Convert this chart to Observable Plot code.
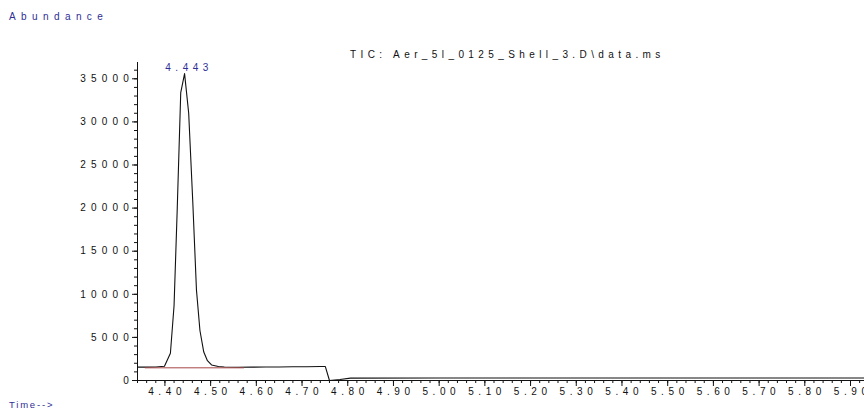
<!DOCTYPE html>
<html><head><meta charset="utf-8">
<script src="https://cdn.jsdelivr.net/npm/d3@7"></script>
<script src="https://cdn.jsdelivr.net/npm/@observablehq/plot@0.6"></script>
<style>
html,body{margin:0;padding:0;background:#fff;}
#wrap{position:relative;width:864px;height:414px;font-family:"Liberation Sans",Arial,sans-serif;overflow:hidden;}
#wrap svg{position:absolute;left:0;top:0;}
.lab{position:absolute;white-space:nowrap;line-height:1;}
</style></head><body>
<div id="wrap">
<div class="lab" style="left:9px;top:11.8px;font-size:10px;letter-spacing:5.4px;color:#2e2e96">Abundance</div>
<div class="lab" style="left:350px;top:49.8px;font-size:10px;letter-spacing:4.4px;color:#111">TIC: Aer_5l_0125_Shell_3.D\data.ms</div>
<div class="lab" style="left:9px;top:399.5px;font-size:9.5px;letter-spacing:1.8px;color:#2e2e96">Time--&gt;</div>
</div>
<script>
// Retention time (min) and abundance of the TIC trace
const time = [4.340, 4.360, 4.380, 4.399, 4.412, 4.420, 4.427, 4.4346, 4.443, 4.452, 4.461, 4.469, 4.4766, 4.485, 4.493, 4.502, 4.517, 4.530, 4.560, 4.590, 4.620, 4.650, 4.680, 4.710, 4.740, 4.751, 4.760, 4.783, 4.806, 5.000, 5.300, 5.600, 5.930];
const abundance = [1550, 1550, 1560, 1650, 3170, 8700, 20000, 33400, 35600, 31000, 20650, 10500, 5800, 3300, 2300, 1800, 1620, 1570, 1540, 1550, 1570, 1560, 1590, 1600, 1620, 1620, 0, 120, 280, 285, 290, 285, 290];
// Integration baseline (red)
const baseTime = [4.357, 4.572];
const baseAbundance = [1470, 1470];
// Peak annotation
const peakTime = [4.443];
const peakAbundance = [35600];
const peakLabel = ["4.443"];
// Axes
const xDomain = [4.340, 5.9306];
const yDomain = [0, 36890];
const xMajor = d3.range(44, 60).map(i => i / 10);
const xMinor = d3.range(217, 297).map(i => i / 50);
const yMajor = d3.range(0, 35001, 5000);
const yMinor = d3.range(0, 36001, 1000);

const trace = time.map((t, i) => ({t, a: abundance[i]}));
const base = baseTime.map((t, i) => ({t, a: baseAbundance[i]}));
const peaks = peakTime.map((t, i) => ({t, a: peakAbundance[i], label: peakLabel[i]}));

const chart = Plot.plot({
  width: 864, height: 414,
  marginLeft: 137, marginRight: 0, marginTop: 62, marginBottom: 34,
  x: {domain: xDomain, label: null},
  y: {domain: yDomain, label: null},
  style: {fontFamily: '"Liberation Sans", Arial, sans-serif', fontSize: "10px", color: "#111", background: "transparent", overflow: "visible"},
  marks: [
    Plot.axisY({ticks: yMinor, tickSize: 3, tickFormat: () => "", label: null, stroke: "#111"}),
    Plot.axisY({ticks: yMajor, tickSize: 5, tickFormat: () => "", label: null, stroke: "#111"}),
    Plot.axisX({ticks: xMinor, tickSize: 3, tickFormat: () => "", label: null, stroke: "#111"}),
    Plot.axisX({ticks: xMajor, tickSize: 6, tickFormat: () => "", label: null, stroke: "#111"}),
    Plot.ruleY([0], {stroke: "#111"}),
    Plot.ruleX([xDomain[0]], {stroke: "#111"}),
    Plot.text(yMajor, {y: d => d, frameAnchor: "left", textAnchor: "end", dx: -3.5, text: d => String(d), fill: "#111"}),
    Plot.text(xMajor, {x: d => d, frameAnchor: "bottom", lineAnchor: "top", dy: 7.5, dx: 2.2, text: d => d.toFixed(2), fill: "#111"}),
    Plot.line(trace, {x: "t", y: "a", stroke: "#111", strokeWidth: 1.1}),
    Plot.line(base, {x: "t", y: "a", stroke: "#a84444", strokeWidth: 1}),
    Plot.text(peaks, {x: "t", y: "a", text: "label", lineAnchor: "bottom", dy: -3, dx: 4.5, fill: "#2e2e96"})
  ]
});
document.getElementById("wrap").prepend(chart);
const groups = chart.querySelectorAll('g[aria-label="text"]');
if (groups[0]) groups[0].style.letterSpacing = "5.2px";
if (groups[1]) groups[1].style.letterSpacing = "4.6px";
if (groups[2]) groups[2].style.letterSpacing = "4.5px";
</script>
</body></html>
